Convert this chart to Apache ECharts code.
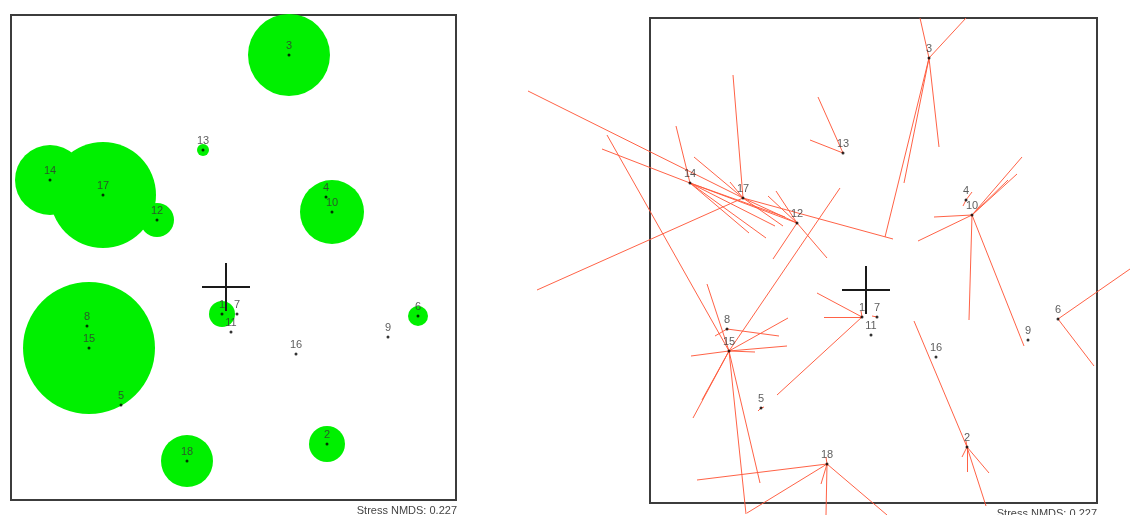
<!DOCTYPE html>
<html>
<head>
<meta charset="utf-8">
<title>NMDS ordination</title>
<script src="https://cdn.jsdelivr.net/npm/echarts@6/dist/echarts.min.js"></script>
<style>
  html, body { margin: 0; padding: 0; background: #fff; }
  #chart { width: 1130px; height: 515px; }
</style>
</head>
<body>
<div id="chart"></div>
<script>
// Sample labels and their NMDS scores (axis 1, axis 2)
const sites = ['1','2','3','4','5','6','7','8','9','10','11','12','13','14','15','16','17','18'];
const nmds1 = [-0.02, 0.505, 0.315, 0.50, -0.525, 0.96, 0.055, -0.695, 0.81, 0.53, 0.025, -0.345, -0.115, -0.88, -0.685, 0.35, -0.615, -0.195];
const nmds2 = [-0.135, -0.785, 1.16, 0.45, -0.59, -0.145, -0.135, -0.195, -0.25, 0.375, -0.225, 0.335, 0.685, 0.535, -0.305, -0.335, 0.46, -0.87];

// Abundance of the plotted taxon per sample (bubble radius)
const abundance = [13, 18, 41, 0, 0, 10, 0, 0, 0, 32, 0, 17, 6, 35, 66, 0, 53, 26];

// Spider segments: [sample, end NMDS1, end NMDS2]
const spokes = [
  ['14', -0.95, 0.82], ['14', -1.32, 0.705], ['14', -0.585, 0.285], ['14', -0.50, 0.26],
  ['14', -0.455, 0.32], ['14', -0.345, 0.335], ['14', -0.405, 0.365],
  ['17', -0.665, 1.075], ['17', -1.69, 0.995], ['17', -1.645, 0.0], ['17', -0.86, 0.665],
  ['17', -0.68, 0.54], ['17', 0.135, 0.255], ['17', -0.345, 0.335], ['17', -0.415, 0.32],
  ['12', -0.49, 0.47], ['12', -0.45, 0.495], ['12', -0.465, 0.155], ['12', -0.195, 0.16],
  ['13', -0.24, 0.965], ['13', -0.28, 0.75],
  ['3', 0.27, 1.36], ['3', 0.50, 1.36], ['3', 0.095, 0.265], ['3', 0.19, 0.535], ['3', 0.365, 0.715],
  ['4', 0.53, 0.49], ['4', 0.485, 0.42],
  ['10', 0.78, 0.665], ['10', 0.755, 0.58], ['10', 0.71, 0.55], ['10', 0.34, 0.365],
  ['10', 0.26, 0.245], ['10', 0.515, -0.15], ['10', 0.79, -0.28],
  ['1', -0.21, -0.135], ['1', -0.245, -0.015], ['1', -0.445, -0.525], ['1', -0.025, -0.105],
  ['7', 0.03, -0.13],
  ['6', 1.32, 0.105], ['6', 1.14, -0.38],
  ['2', 0.24, -0.155], ['2', 0.60, -1.08], ['2', 0.505, -0.91], ['2', 0.615, -0.915],
  ['2', 0.48, -0.835], ['2', 0.50, -0.755],
  ['15', -1.295, 0.775], ['15', -0.795, 0.03], ['15', -0.13, 0.51], ['15', -0.39, -0.14],
  ['15', -0.395, -0.28], ['15', -0.555, -0.31], ['15', -0.875, -0.33], ['15', -0.82, -0.55],
  ['15', -0.865, -0.64], ['15', -0.53, -0.965], ['15', -0.60, -1.12],
  ['8', -0.435, -0.23], ['8', -0.755, -0.23],
  ['5', -0.54, -0.605], ['5', -0.51, -0.585],
  ['18', -0.845, -0.95], ['18', -0.595, -1.115], ['18', -0.225, -0.97], ['18', -0.20, -1.125],
  ['18', 0.105, -1.125], ['18', -0.20, -0.835]
];

const stressText = 'Stress NMDS: 0.227';
const crossArm = 0.12; // half-length of the origin cross, in NMDS units

const FONT = '"Liberation Sans", Arial, sans-serif';

const points = sites.map((s, i) => [nmds1[i], nmds2[i], s]);
const bubbles = sites.map((s, i) => [nmds1[i], nmds2[i], abundance[i]]).filter(d => d[2] > 0);
const pos = {};
sites.forEach((s, i) => { pos[s] = [nmds1[i], nmds2[i]]; });
const spokeLines = spokes.map(([s, x, y]) => ({ coords: [pos[s], [x, y]] }));
const crossLines = [
  { coords: [[0, -crossArm], [0, crossArm]] },
  { coords: [[-crossArm, 0], [crossArm, 0]] }
];

function axisPair(idx, xr, yr) {
  const hidden = { show: false };
  return {
    x: { gridIndex: idx, type: 'value', min: xr[0], max: xr[1], axisLine: hidden, axisTick: hidden, axisLabel: hidden, splitLine: hidden },
    y: { gridIndex: idx, type: 'value', min: yr[0], max: yr[1], axisLine: hidden, axisTick: hidden, axisLabel: hidden, splitLine: hidden }
  };
}
const a0 = axisPair(0, [-1.075, 1.15], [-1.065, 1.36]);
const a1 = axisPair(1, [-1.08, 1.155], [-1.065, 1.36]);

function pointSeries(idx) {
  return {
    type: 'scatter', xAxisIndex: idx, yAxisIndex: idx, z: 5,
    symbol: 'circle', symbolSize: 3,
    itemStyle: { color: '#000' },
    label: {
      show: true, position: 'top', distance: 2,
      formatter: p => p.data[2],
      fontSize: 11, fontFamily: FONT, color: '#333'
    },
    data: points, silent: true
  };
}
function crossSeries(idx) {
  return {
    type: 'lines', coordinateSystem: 'cartesian2d', xAxisIndex: idx, yAxisIndex: idx, z: 4,
    clip: false, silent: true,
    lineStyle: { color: '#1a1a1a', width: 2, opacity: 1 },
    data: crossLines
  };
}

const option = {
  animation: false,
  grid: [
    { left: 11, top: 15, width: 445, height: 485, show: true, borderColor: '#3c3c3c', borderWidth: 2, backgroundColor: '#fff' },
    { left: 650, top: 18, width: 447, height: 485, show: true, borderColor: '#3c3c3c', borderWidth: 2, backgroundColor: '#fff' }
  ],
  xAxis: [a0.x, a1.x],
  yAxis: [a0.y, a1.y],
  series: [
    {
      type: 'scatter', xAxisIndex: 0, yAxisIndex: 0, z: 2,
      symbol: 'circle',
      symbolSize: v => v[2] * 2,
      itemStyle: { color: '#00f000', opacity: 1 },
      data: bubbles, silent: true
    },
    crossSeries(0),
    pointSeries(0),
    {
      type: 'lines', coordinateSystem: 'cartesian2d', xAxisIndex: 1, yAxisIndex: 1, z: 2,
      clip: false, silent: true,
      lineStyle: { color: '#ff5a3c', width: 1, opacity: 0.95 },
      data: spokeLines
    },
    crossSeries(1),
    pointSeries(1)
  ],
  graphic: [
    { type: 'text', right: 1130 - 457, top: 505, style: { text: stressText, font: '11px ' + FONT, fill: '#444' } },
    { type: 'text', right: 1130 - 1097, top: 508, style: { text: stressText, font: '11px ' + FONT, fill: '#444' } }
  ]
};

const chart = echarts.init(document.getElementById('chart'), null, { renderer: 'canvas' });
chart.setOption(option);
</script>
</body>
</html>
